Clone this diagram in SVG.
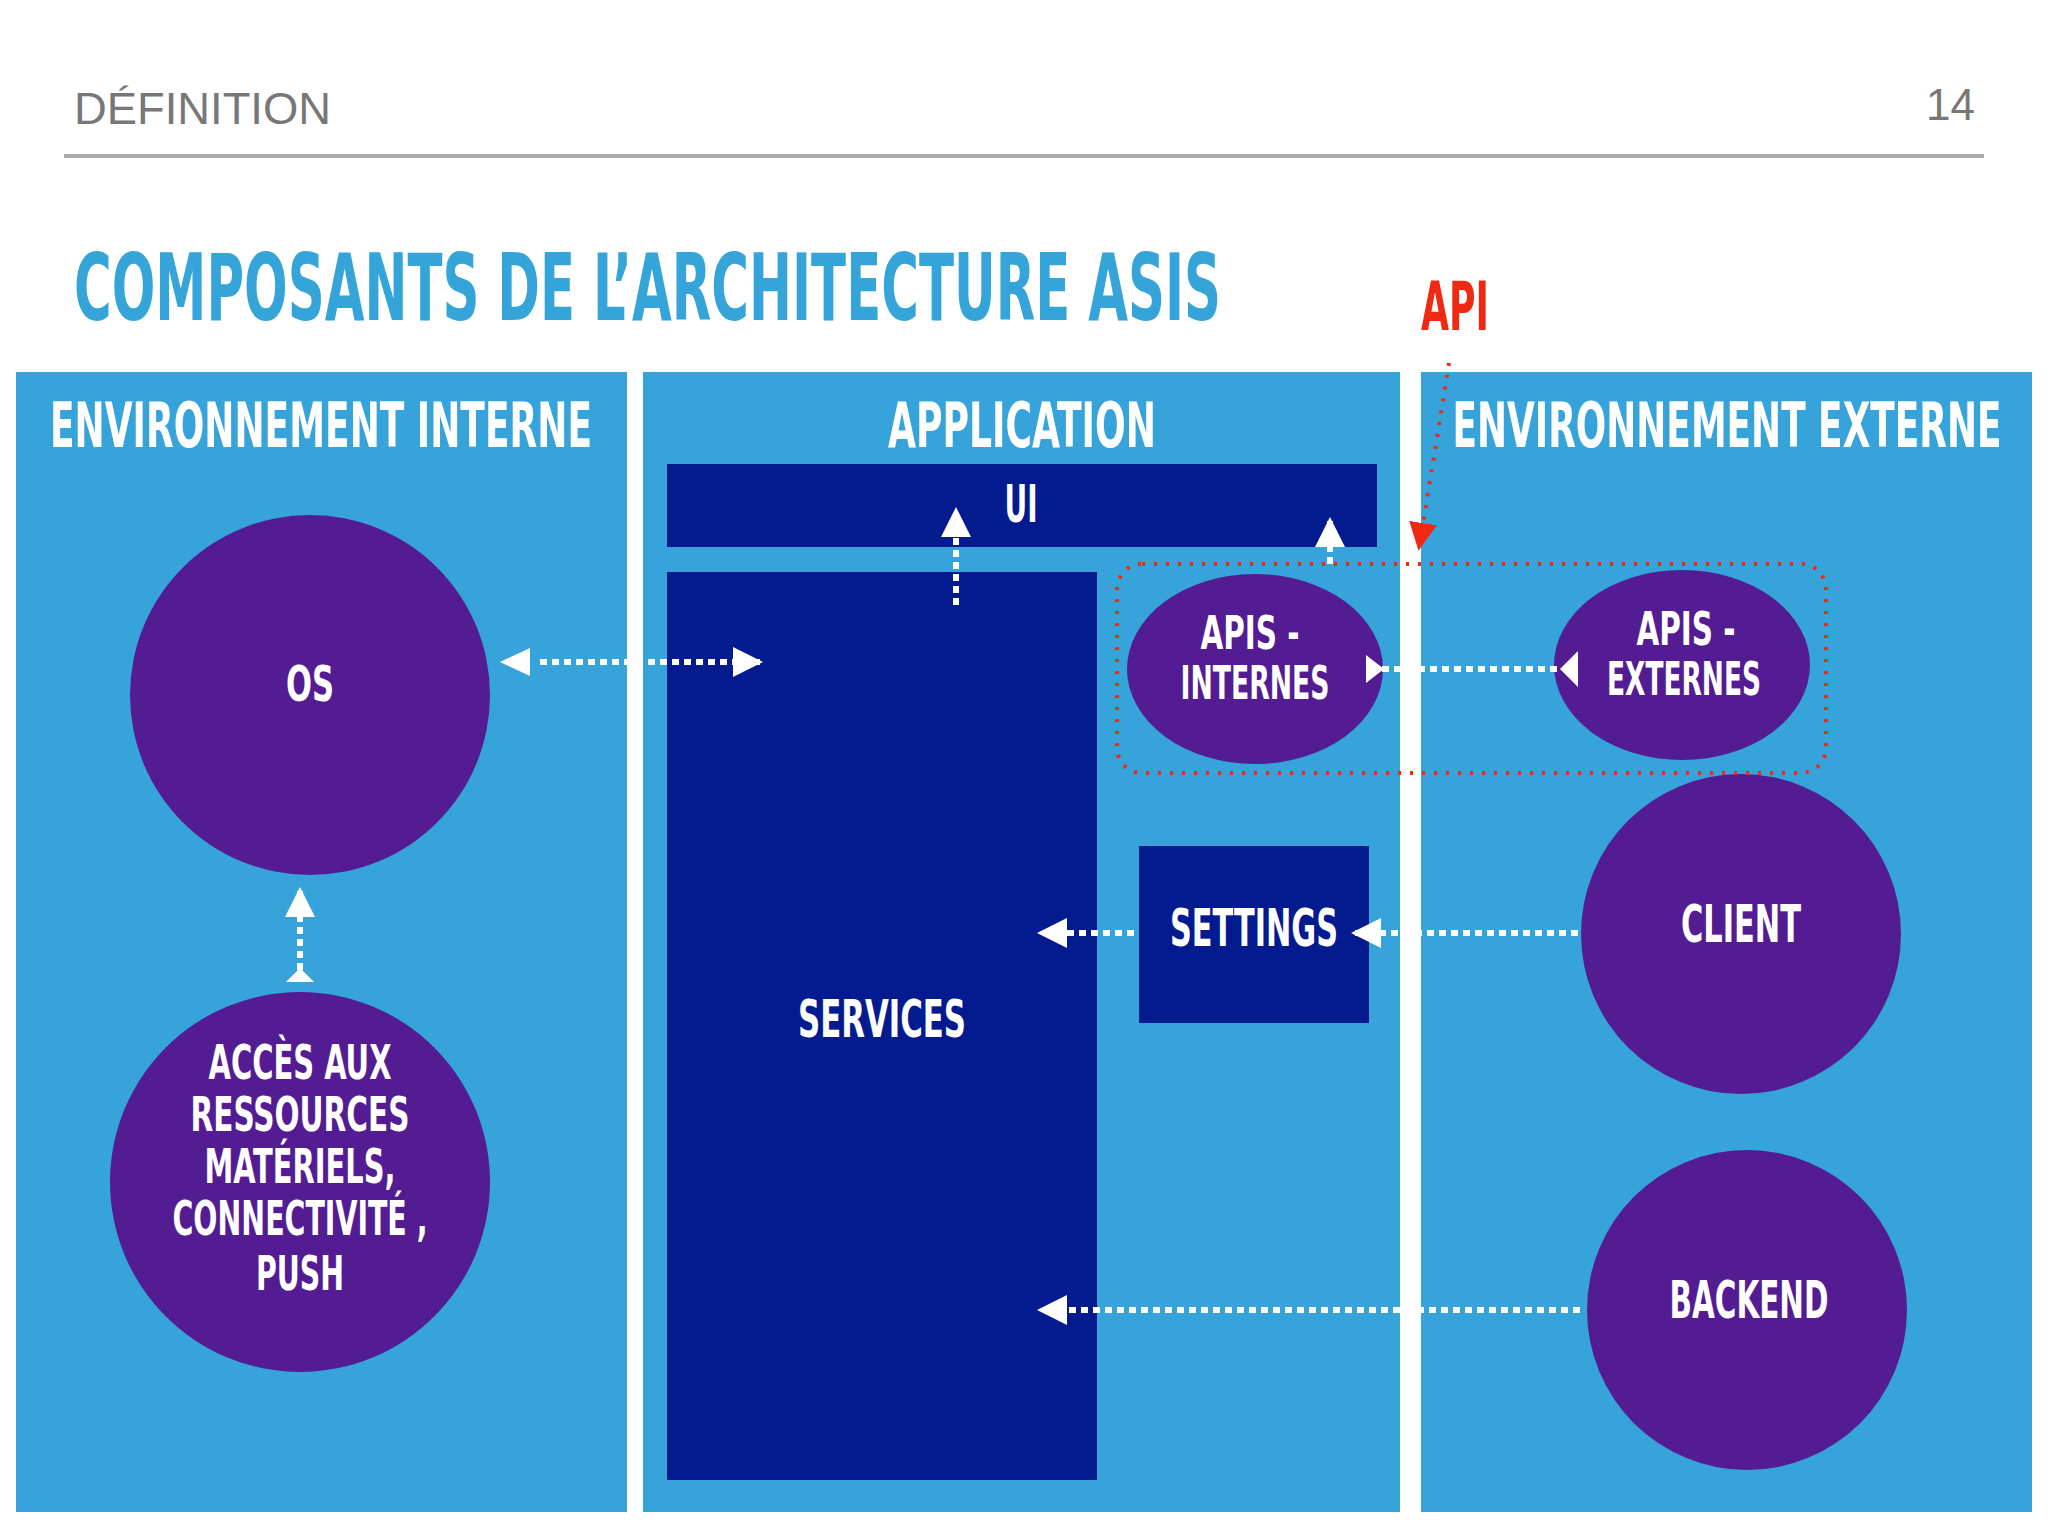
<svg xmlns="http://www.w3.org/2000/svg" width="2048" height="1536" viewBox="0 0 2048 1536">
<defs>
<style>
.t{font-family:"DejaVu Sans Condensed","Liberation Sans",sans-serif;font-weight:bold;fill:#fff;text-anchor:middle}
.panel{fill:#36a3db}
.dk{fill:#041a8f}
.pu{fill:#541c93}
.dl{stroke:#fff;stroke-width:6;stroke-dasharray:7 5;fill:none}
</style>
<marker id="ah" viewBox="0 0 10 10" refX="9" refY="5" markerWidth="5" markerHeight="5" orient="auto" markerUnits="strokeWidth"><path d="M0,0L10,5L0,10z" fill="#fff"/></marker>
<marker id="ra" viewBox="0 0 10 10" refX="9" refY="5" markerWidth="7" markerHeight="7" orient="auto" markerUnits="strokeWidth"><path d="M0,0L10,5L0,10z" fill="#f02a12"/></marker>
</defs>
<rect width="2048" height="1536" fill="#fff"/>
<text x="74" y="124" font-family="Liberation Sans,sans-serif" font-size="44" fill="#777" textLength="257" lengthAdjust="spacingAndGlyphs">DÉFINITION</text>
<text x="1975" y="120" font-family="Liberation Sans,sans-serif" font-size="44" fill="#777" text-anchor="end">14</text>
<line x1="64" y1="156" x2="1984" y2="156" stroke="#aaa" stroke-width="4"/>
<text x="74" y="320" font-family="DejaVu Sans Condensed,sans-serif" font-weight="bold" font-size="92" fill="#35a5d9" textLength="1147" lengthAdjust="spacingAndGlyphs">COMPOSANTS DE L’ARCHITECTURE ASIS</text>
<text x="1421" y="330" font-family="DejaVu Sans Condensed,sans-serif" font-weight="bold" font-size="68" fill="#f02a12" textLength="68" lengthAdjust="spacingAndGlyphs">API</text>
<g id="panels">
<rect class="panel" x="16" y="372" width="611" height="1140"/>
<rect class="panel" x="643" y="372" width="757" height="1140"/>
<rect class="panel" x="1421" y="372" width="611" height="1140"/>
<text class="t" x="321" y="447" font-size="62" textLength="542" lengthAdjust="spacingAndGlyphs">ENVIRONNEMENT INTERNE</text>
<text class="t" x="1022" y="447" font-size="62" textLength="268" lengthAdjust="spacingAndGlyphs">APPLICATION</text>
<text class="t" x="1727" y="447" font-size="62" textLength="549" lengthAdjust="spacingAndGlyphs">ENVIRONNEMENT EXTERNE</text>
</g>
<g id="ui"><rect class="dk" x="667" y="464" width="710" height="83"/><text class="t" x="1021" y="522" font-size="52" textLength="33" lengthAdjust="spacingAndGlyphs">UI</text></g>
<g id="services"><rect class="dk" x="667" y="572" width="430" height="908"/><text class="t" x="882" y="1037" font-size="52" textLength="168" lengthAdjust="spacingAndGlyphs">SERVICES</text></g>
<g id="settings"><rect class="dk" x="1139" y="846" width="230" height="177"/><text class="t" x="1254" y="946" font-size="52" textLength="168" lengthAdjust="spacingAndGlyphs">SETTINGS</text></g>
<g id="os"><circle class="pu" cx="310" cy="695" r="180"/><text class="t" x="310" y="701" font-size="50" textLength="48" lengthAdjust="spacingAndGlyphs">OS</text></g>
<g id="acces"><circle class="pu" cx="300" cy="1182" r="190"/>
<text class="t" font-size="48" x="300" y="1079" textLength="183" lengthAdjust="spacingAndGlyphs">ACCÈS AUX</text>
<text class="t" font-size="48" x="300" y="1131" textLength="219" lengthAdjust="spacingAndGlyphs">RESSOURCES</text>
<text class="t" font-size="48" x="300" y="1183" textLength="191" lengthAdjust="spacingAndGlyphs">MATÉRIELS,</text>
<text class="t" font-size="48" x="300" y="1235" textLength="255" lengthAdjust="spacingAndGlyphs">CONNECTIVITÉ ,</text>
<text class="t" font-size="48" x="300" y="1290" textLength="88" lengthAdjust="spacingAndGlyphs">PUSH</text></g>
<g id="apis-internes"><ellipse class="pu" cx="1255" cy="669" rx="128" ry="95"/>
<text class="t" font-size="46" x="1250" y="649" textLength="99" lengthAdjust="spacingAndGlyphs">APIS -</text>
<text class="t" font-size="46" x="1255" y="699" textLength="149" lengthAdjust="spacingAndGlyphs">INTERNES</text></g>
<g id="apis-externes"><ellipse class="pu" cx="1682" cy="665" rx="128" ry="95"/>
<text class="t" font-size="46" x="1686" y="645" textLength="99" lengthAdjust="spacingAndGlyphs">APIS -</text>
<text class="t" font-size="46" x="1684" y="695" textLength="154" lengthAdjust="spacingAndGlyphs">EXTERNES</text></g>
<g id="client"><circle class="pu" cx="1741" cy="934" r="160"/><text class="t" x="1741" y="942" font-size="52" textLength="120" lengthAdjust="spacingAndGlyphs">CLIENT</text></g>
<g id="backend"><circle class="pu" cx="1747" cy="1310" r="160"/><text class="t" x="1749" y="1318" font-size="52" textLength="159" lengthAdjust="spacingAndGlyphs">BACKEND</text></g>
<g id="connectors">
<rect x="1117" y="564" width="709" height="209" rx="25" fill="none" stroke="#f02a12" stroke-width="4" stroke-dasharray="3 9"/>
<path d="M1449,363 C1440,420 1430,480 1419,548" fill="none" stroke="#f02a12" stroke-width="4" stroke-dasharray="3 9" marker-end="url(#ra)"/>
<path class="dl" d="M540,662H760" marker-end="url(#ah)"/>
<path d="M500,662L530,648L530,676z" fill="#fff"/>
<path class="dl" d="M300,970V890" marker-end="url(#ah)"/>
<path d="M300,968L286,982L314,982z" fill="#fff"/>
<path class="dl" d="M956,605V510" marker-end="url(#ah)"/>
<path class="dl" d="M1330,564V520" marker-end="url(#ah)"/>
<path class="dl" d="M1382,669H1560"/>
<path d="M1366,655L1384,669L1366,683z" fill="#fff"/>
<path d="M1578,651L1560,669L1578,687z" fill="#fff"/>
<path class="dl" d="M1134,933H1040" marker-end="url(#ah)"/>
<path class="dl" d="M1578,933H1354" marker-end="url(#ah)"/>
<path class="dl" d="M1580,1310H1040" marker-end="url(#ah)"/>
</g>
</svg>
